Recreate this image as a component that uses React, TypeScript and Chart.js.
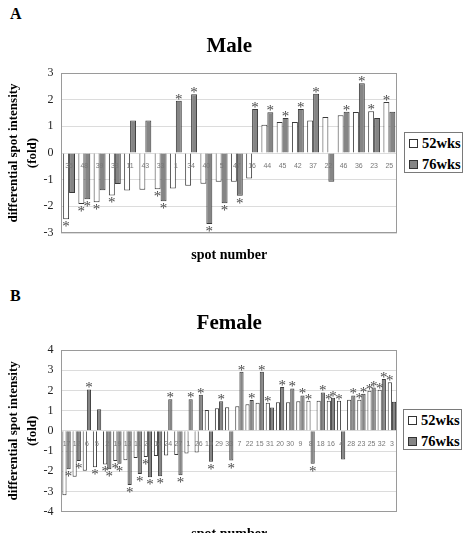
import React, { useEffect, useRef } from 'react';
import { Chart, registerables } from 'chart.js';
Chart.register(...registerables);

const SERIF = '"Liberation Serif", "Times New Roman", serif';

const seriesNames = ['52wks', '76wks'];

const maleLabels = ['35','48','39','38','11','43','33','1','34','40','5','47','16','44','45','42','37','22','46','36','23','25'];
const male52 = [-2.48,-1.91,-1.85,-1.59,-1.41,-1.38,-1.36,-1.33,-1.23,-1.15,-1.08,-1.08,-0.96,1.06,1.16,1.16,1.22,1.35,1.42,1.54,1.57,1.91];
const male76 = [-1.5,-1.73,-1.4,-1.16,1.22,1.22,-1.81,1.96,2.2,-2.66,-1.88,-1.6,1.65,1.53,1.31,1.65,2.22,-1.08,1.55,2.62,1.31,1.55];
const male52Sig = [1,1,1,1,0,0,1,0,0,0,0,0,0,0,0,0,0,0,0,0,1,1];
const male76Sig = [0,1,0,0,0,0,1,1,1,1,1,1,1,1,1,1,1,0,1,1,0,0];

const femaleLabels = ['17','12','6','5','2','19','13','11','21','14','24','27','1','26','10','29','33','7','22','15','31','20','30','9','8','18','16','4','28','23','25','32','3'];
const female52 = [-3.19,-2.27,-1.98,-1.8,-1.66,-1.49,-1.46,-1.34,-1.29,-1.25,-1.22,-1.19,-1.12,-1.07,1.03,1.12,1.17,1.22,1.32,1.39,1.39,1.42,1.42,1.46,1.49,1.49,1.49,1.49,1.54,1.54,1.98,2.03,2.41];
const female76 = [-1.9,-1.49,2.05,1.07,-1.9,-1.63,-2.68,-2.14,-2.3,-2.24,1.56,-2.2,1.56,1.78,-1.53,1.47,-1.47,2.93,1.53,2.93,1.15,2.17,2.1,1.75,-1.63,1.9,1.64,-1.42,1.75,1.83,2.14,2.56,1.44];
const female52Sig = [0,0,0,1,1,1,0,0,1,0,0,0,0,0,0,0,0,0,0,0,1,0,0,0,1,0,1,1,0,1,1,1,1];
const female76Sig = [1,1,1,0,1,1,1,1,1,1,1,1,1,1,1,1,1,1,1,1,0,1,1,1,1,1,1,0,1,1,1,1,0];

const barFill = ['#ffffff', '#858585'];
const barEdge = '#3a3a3a';

function starsPlugin(sigs: number[][]) {
  return {
    id: 'frameStars',
    afterDatasetsDraw(chart: any) {
      const { ctx, chartArea } = chart;
      ctx.save();
      ctx.font = `15px ${SERIF}`;
      ctx.fillStyle = '#4a4a4a';
      ctx.textAlign = 'center';
      ctx.textBaseline = 'alphabetic';
      sigs.forEach((sig, d) => {
        const meta = chart.getDatasetMeta(d);
        meta.data.forEach((el: any, i: number) => {
          if (!sig[i]) return;
          const v = chart.data.datasets[d].data[i];
          const { x, y } = el.getProps(['x', 'y'], true);
          ctx.fillText('*', x, v >= 0 ? y + 3 : y + 12);
        });
      });
      ctx.strokeStyle = '#9a9a9a';
      ctx.lineWidth = 1;
      const l = Math.round(chartArea.left) + 0.5;
      const t = Math.round(chartArea.top) + 0.5;
      const r = Math.round(chartArea.right) - 0.5;
      const b = Math.round(chartArea.bottom) - 0.5;
      ctx.strokeRect(l, t, r - l, b - t);
      ctx.restore();
    },
  };
}

type PanelProps = {
  title: string;
  labels: string[];
  d52: number[];
  d76: number[];
  s52: number[];
  s76: number[];
  yMin: number;
  yMax: number;
  top: number;
  catPct: number;
  subPad: { top: number; bottom: number };
};

function Panel(p: PanelProps) {
  const ref = useRef<HTMLCanvasElement>(null);
  useEffect(() => {
    if (!ref.current) return;
    const chart = new Chart(ref.current, {
      type: 'bar',
      data: {
        labels: p.labels,
        datasets: [
          { label: seriesNames[0], data: p.d52, backgroundColor: barFill[0], borderColor: barEdge, borderWidth: 1 },
          { label: seriesNames[1], data: p.d76, backgroundColor: barFill[1], borderColor: barEdge, borderWidth: 1 },
        ],
      },
      options: {
        animation: false,
        responsive: true,
        maintainAspectRatio: false,
        layout: { padding: { left: 4.5, right: 78, top: 0, bottom: 0 } },
        datasets: { bar: { categoryPercentage: p.catPct, barPercentage: 1 } },
        plugins: {
          legend: { display: false },
          tooltip: { enabled: false },
          title: {
            display: true,
            text: p.title,
            fullSize: false,
            color: '#000',
            font: { family: SERIF, size: 21, weight: 'bold', lineHeight: 1.2 },
            padding: { top: 6, bottom: 13.8 },
          },
          subtitle: {
            display: true,
            position: 'bottom',
            text: 'spot number',
            fullSize: false,
            color: '#000',
            font: { family: SERIF, size: 14, weight: 'bold', lineHeight: 1.2 },
            padding: p.subPad,
          },
        },
        scales: {
          x: {
            position: { y: 0 },
            grid: { display: false },
            border: { display: false },
            ticks: {
              z: 1,
              autoSkip: false,
              maxRotation: 0,
              minRotation: 0,
              padding: 1,
              color: '#777',
              font: { family: '"Liberation Sans", Arial, sans-serif', size: 7 },
            },
          },
          y: {
            min: p.yMin,
            max: p.yMax,
            grid: { color: '#dcdcdc', drawTicks: false },
            border: { display: false },
            ticks: { stepSize: 1, padding: 8, color: '#222', font: { family: SERIF, size: 12 } },
            title: {
              display: true,
              text: ['differential spot intensity', '(fold)'],
              color: '#000',
              padding: { top: 0, bottom: -7 },
              font: { family: SERIF, size: 13, weight: 'bold', lineHeight: 1.46 },
            },
          },
        },
      } as any,
      plugins: [starsPlugin([p.s52, p.s76])],
    });
    return () => chart.destroy();
  }, []);
  return (
    <div style={{ position: 'absolute', left: 0, top: p.top, width: 475, height: 240 }}>
      <canvas ref={ref} />
    </div>
  );
}

function Legend({ left, top }: { left: number; top: number }) {
  return (
    <div
      style={{
        position: 'absolute',
        left,
        top,
        width: 57,
        height: 39,
        border: '1px solid #7a7a7a',
        background: '#fff',
        fontFamily: SERIF,
        fontWeight: 'bold',
        fontSize: 14.5,
        color: '#000',
      }}
    >
      {seriesNames.map((name, k) => (
        <div
          key={name}
          style={{
            position: 'absolute',
            left: 4,
            top: k === 0 ? 3 : 24,
            height: 15,
            lineHeight: '15px',
            display: 'flex',
            alignItems: 'center',
            whiteSpace: 'nowrap',
          }}
        >
          <span
            style={{
              display: 'inline-block',
              width: 7,
              height: 7,
              border: '1px solid #333',
              background: barFill[k],
              marginRight: 4,
            }}
          />
          <span>{name}</span>
        </div>
      ))}
    </div>
  );
}

export default function App() {
  const letter: React.CSSProperties = {
    position: 'absolute',
    left: 10,
    fontFamily: SERIF,
    fontWeight: 'bold',
    fontSize: 16,
    color: '#000',
  };
  return (
    <div style={{ position: 'absolute', left: 0, top: 0, width: 475, height: 533, overflow: 'hidden', background: '#fff' }}>
      <div style={{ ...letter, top: 4.6 }}>A</div>
      <Panel
        title="Male"
        labels={maleLabels}
        d52={male52}
        d76={male76}
        s52={male52Sig}
        s76={male76Sig}
        yMin={-3}
        yMax={3}
        top={28}
        catPct={0.78}
        subPad={{ top: 13.6, bottom: 4.6 }}
      />
      <Legend left={404} top={131.7} />
      <div style={{ ...letter, top: 286.5 }}>B</div>
      <Panel
        title="Female"
        labels={femaleLabels}
        d52={female52}
        d76={female76}
        s52={female52Sig}
        s76={female76Sig}
        yMin={-4}
        yMax={4}
        top={305}
        catPct={0.82}
        subPad={{ top: 13.9, bottom: 2.6 }}
      />
      <Legend left={403} top={409} />
    </div>
  );
}
